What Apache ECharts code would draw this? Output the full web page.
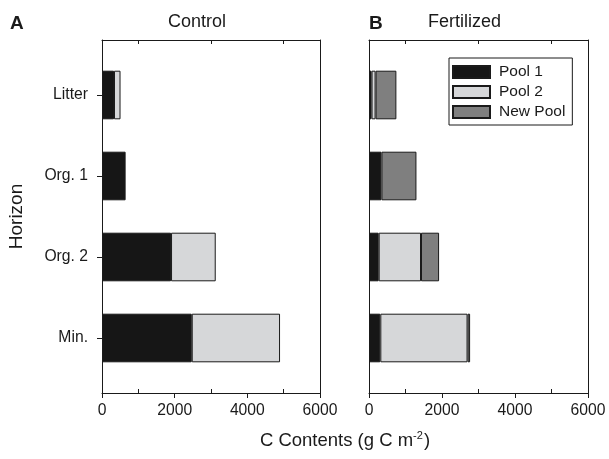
<!DOCTYPE html>
<html>
<head>
<meta charset="utf-8">
<script src="https://cdn.jsdelivr.net/npm/echarts@6/dist/echarts.min.js"></script>
<style>html,body{margin:0;padding:0;background:#fff}#c{width:609px;height:459px}</style>
</head>
<body>
<div id="c"></div>
<script>
const categories = ['Litter', 'Org. 1', 'Org. 2', 'Min.'];
const controlPool1 = [330, 650, 1900, 2470];
const controlPool2 = [180, '-', 1230, 2430];
const fertPool1 = [70, 340, 265, 310];
const fertPool2 = [110, '-', 1160, 2390];
const fertNewPool = [570, 960, 495, 70];
const tickValues = ['0', '1000', '2000', '3000', '4000', '5000', '6000'];

const FONT = "'Liberation Sans', Arial, Helvetica, sans-serif";
const INK = '#1a1a1a';
const COL1 = '#161616', COL2 = '#d6d7d9', COL3 = '#7f7f7f';

const chart = echarts.init(document.getElementById('c'), null, {renderer: 'canvas'});

function frameAxes(grid) {
  return [
    { gridIndex: grid, type: 'value', position: 'bottom', min: 0, max: 6000, interval: 2000,
      axisLine: {show: true, lineStyle: {color: INK, width: 1}},
      axisTick: {show: true, inside: false, length: 5, lineStyle: {color: INK}},
      axisLabel: {show: true, fontSize: 15.7, fontFamily: FONT, color: INK, margin: 10, formatter: (v) => String(v)},
      splitLine: {show: false} },
    { gridIndex: grid, type: 'category', position: 'bottom', data: tickValues, boundaryGap: false,
      axisLine: {show: false},
      axisTick: {show: true, inside: true, length: 4, interval: (i) => i % 2 === 1, lineStyle: {color: INK}},
      axisLabel: {show: false}, splitLine: {show: false} },
    { gridIndex: grid, type: 'category', position: 'top', data: tickValues, boundaryGap: false,
      axisLine: {show: true, lineStyle: {color: INK, width: 1}},
      axisTick: {show: true, inside: true, length: 4, interval: (i) => i % 2 === 1, lineStyle: {color: INK}},
      axisLabel: {show: false}, splitLine: {show: false} }
  ];
}
function hiddenX(grid) {
  return { gridIndex: grid, type: 'value', min: 0, max: 6000, show: false, splitLine: {show: false} };
}
function frameY(grid, pos) {
  return { gridIndex: grid, type: 'value', position: pos, min: 0, max: 1,
    axisLine: {show: true, lineStyle: {color: INK, width: 1}},
    axisTick: {show: false}, axisLabel: {show: false}, splitLine: {show: false} };
}

const barStyle = (c) => ({color: c, borderColor: INK, borderWidth: 1});

const option = {
  animation: false,
  backgroundColor: '#fff',
  textStyle: {fontFamily: FONT, color: INK},
  title: [
    {text: 'A', left: 10, top: 14, padding: 0, textStyle: {fontSize: 19, fontWeight: 'bold', fontFamily: FONT, color: INK}},
    {text: 'Control', left: 168, top: 13, padding: 0, textStyle: {fontSize: 18, fontWeight: 'normal', fontFamily: FONT, color: INK}},
    {text: 'B', left: 369, top: 14, padding: 0, textStyle: {fontSize: 19, fontWeight: 'bold', fontFamily: FONT, color: INK}},
    {text: 'Fertilized', left: 428, top: 13, padding: 0, textStyle: {fontSize: 18, fontWeight: 'normal', fontFamily: FONT, color: INK}}
  ],
  legend: {
    data: ['Pool 1', 'Pool 2', 'New Pool'],
    orient: 'vertical', left: 449, top: 58,
    borderColor: INK, borderWidth: 1, padding: [6, 7, 5, 3],
    itemWidth: 37, itemHeight: 12, itemGap: 4, icon: 'rect',
    textStyle: {fontSize: 15.5, fontFamily: FONT, color: INK, lineHeight: 16, padding: [0, 0, 0, 4]}
  },
  grid: [
    {left: 102, width: 218, top: 40, height: 353},
    {left: 102, width: 218, top: 54.5, height: 324},
    {left: 369, width: 219, top: 40, height: 353},
    {left: 369, width: 219, top: 54.5, height: 324}
  ],
  xAxis: [].concat(frameAxes(0), [hiddenX(1)], frameAxes(2), [hiddenX(3)]),
  yAxis: [
    frameY(0, 'left'), frameY(0, 'right'),
    { gridIndex: 1, type: 'category', data: categories, inverse: true,
      axisLine: {show: false},
      axisTick: {show: true, alignWithLabel: true, length: 5, lineStyle: {color: INK}},
      axisLabel: {fontSize: 15.7, fontFamily: FONT, color: INK, margin: 14},
      name: 'Horizon', nameLocation: 'middle', nameGap: 76, nameRotate: 90,
      nameTextStyle: {fontSize: 19, fontFamily: FONT, color: INK} },
    frameY(2, 'left'), frameY(2, 'right'),
    { gridIndex: 3, type: 'category', data: categories, inverse: true,
      axisLine: {show: false}, axisTick: {show: false}, axisLabel: {show: false} }
  ],
  series: [
    {name: 'Pool 1', type: 'bar', xAxisIndex: 3, yAxisIndex: 2, stack: 'control', barWidth: '60%', data: controlPool1, itemStyle: barStyle(COL1)},
    {name: 'Pool 2', type: 'bar', xAxisIndex: 3, yAxisIndex: 2, stack: 'control', barWidth: '60%', data: controlPool2, itemStyle: barStyle(COL2)},
    {name: 'Pool 1', type: 'bar', xAxisIndex: 7, yAxisIndex: 5, stack: 'fert', barWidth: '60%', data: fertPool1, itemStyle: barStyle(COL1)},
    {name: 'Pool 2', type: 'bar', xAxisIndex: 7, yAxisIndex: 5, stack: 'fert', barWidth: '60%', data: fertPool2, itemStyle: barStyle(COL2)},
    {name: 'New Pool', type: 'bar', xAxisIndex: 7, yAxisIndex: 5, stack: 'fert', barWidth: '60%', data: fertNewPool, itemStyle: barStyle(COL3)}
  ],
  graphic: [
    { type: 'text', x: 345, y: 441,
      style: {
        text: '{a|C Contents (g C m}{b|-2}{a|)}',
        align: 'center', verticalAlign: 'middle',
        rich: {
          a: {fontSize: 18.5, fontFamily: FONT, fill: INK, color: INK, lineHeight: 22},
          b: {fontSize: 11, fontFamily: FONT, fill: INK, color: INK, verticalAlign: 'top', lineHeight: 22, padding: [0, 1, 0, 0]}
        }
      } }
  ]
};
chart.setOption(option);
</script>
</body>
</html>
